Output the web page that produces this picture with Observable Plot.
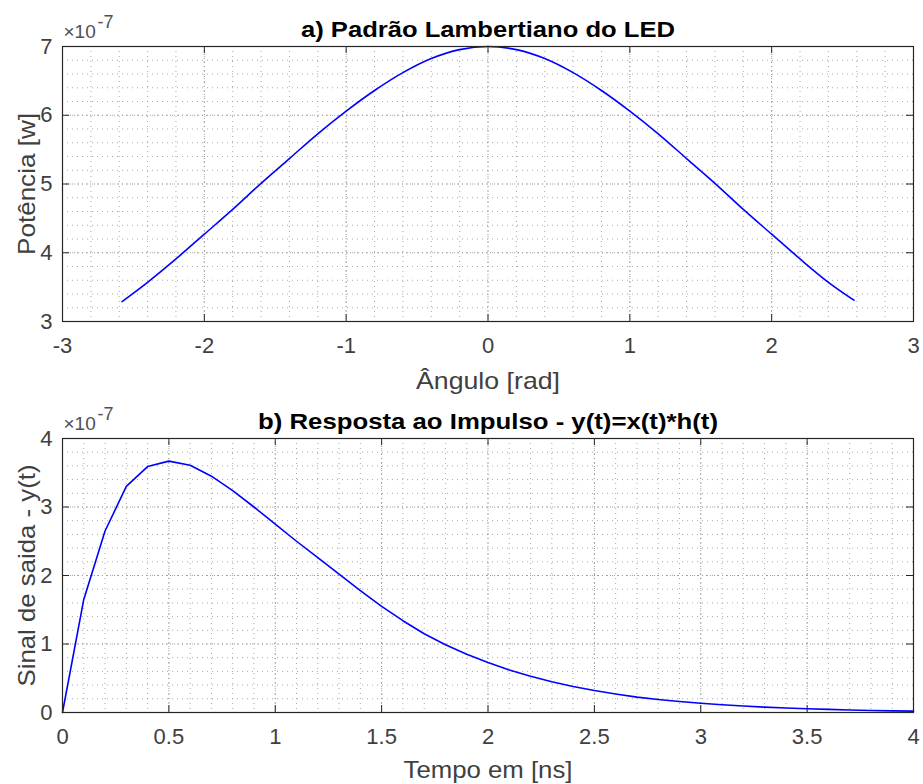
<!DOCTYPE html>
<html><head><meta charset="utf-8">
<script src="https://cdn.jsdelivr.net/npm/d3@7"></script>
<script src="https://cdn.jsdelivr.net/npm/@observablehq/plot@0.6"></script>
<style>
body{margin:0;background:#fff}
#c svg{display:block;overflow:visible}
</style>
</head><body><div id="c"></div>
<script>
// a) Lambertian pattern: angle [rad] vs power [x1e-7 W]
const angleRad = [-2.58,-2.4,-2.2,-2.0,-1.8,-1.6,-1.4,-1.2,-1.0,-0.8,-0.6,-0.4,-0.2,0,0.2,0.4,0.6,0.8,1.0,1.2,1.4,1.6,1.8,2.0,2.2,2.4,2.58];
const powerE7  = [3.29,3.57,3.91,4.27,4.63,5.01,5.37,5.73,6.06,6.36,6.62,6.825,6.955,7.0,6.955,6.825,6.62,6.36,6.06,5.73,5.37,5.01,4.63,4.27,3.91,3.57,3.31];
// b) impulse response: time [ns] vs output [x1e-7]
const timeNs = [0,0.1,0.2,0.3,0.4,0.5,0.6,0.7,0.8,0.9,1.0,1.1,1.2,1.3,1.4,1.5,1.6,1.7,1.8,1.9,2.0,2.1,2.2,2.3,2.4,2.5,2.6,2.7,2.8,2.9,3.0,3.1,3.2,3.3,3.4,3.5,3.6,3.7,3.8,3.9,4.0];
const outputE7 = [0,1.65,2.65,3.30,3.59,3.67,3.61,3.45,3.24,3.00,2.75,2.50,2.26,2.02,1.78,1.55,1.34,1.15,0.99,0.85,0.73,0.62,0.53,0.45,0.38,0.32,0.27,0.225,0.19,0.16,0.136,0.113,0.094,0.078,0.065,0.054,0.045,0.037,0.03,0.024,0.02];
// ticks
const xTicksA = [-3,-2,-1,0,1,2,3];
const yTicksA = [3,4,5,6,7];
const xTicksB = [0,0.5,1,1.5,2,2.5,3,3.5,4];
const yTicksB = [0,1,2,3,4];
const xMinorA = d3.range(-15,16).map(i => i/5);
const yMinorA = d3.range(15,36).map(i => i/5);
const xMinorB = d3.range(0,41).map(i => i/10);
const yMinorB = d3.range(0,21).map(i => i/5);

const W = 923, ML = 62, MR = 10, MT = 46;
const FONT = "'Liberation Sans', Arial, Helvetica, sans-serif";
const INK = "#262626";

function panel(o) {
  const H = 392;
  const ih = H - MT - o.mb, iw = W - ML - MR;
  const data = o.xs.map((x, i) => ({x, y: o.ys[i]}));
  const svg = Plot.plot({
    width: W, height: H,
    marginLeft: ML, marginRight: MR, marginTop: MT, marginBottom: o.mb,
    style: {fontFamily: FONT, fontSize: "22px", color: INK, overflow: "visible"},
    x: {domain: o.xDomain},
    y: {domain: o.yDomain},
    marks: [
      Plot.ruleX(o.xMinor, {stroke: "#a8a8a8", strokeWidth: 1, strokeDasharray: "1,4"}),
      Plot.ruleY(o.yMinor, {stroke: "#a8a8a8", strokeWidth: 1, strokeDasharray: "1,4"}),
      Plot.ruleX(o.xTicks, {stroke: "#999", strokeWidth: 1, strokeDasharray: "1,3"}),
      Plot.ruleY(o.yTicks, {stroke: "#999", strokeWidth: 1, strokeDasharray: "1,3"}),
      Plot.line(data, {x: "x", y: "y", stroke: "#0000ff", strokeWidth: 1.6, curve: o.curve}),
      Plot.ruleX(o.xTicks, {stroke: INK, insetBottom: ih - 7}),
      Plot.ruleX(o.xTicks, {stroke: INK, insetTop: ih - 7}),
      Plot.ruleY(o.yTicks, {stroke: INK, insetRight: iw - 7}),
      Plot.ruleY(o.yTicks, {stroke: INK, insetLeft: iw - 7}),
      Plot.frame({stroke: INK, strokeWidth: 1.2}),
      Plot.axisX({ticks: o.xTicks, tickSize: 0, tickPadding: 16, tickFormat: d => String(d), label: null, fill: "#404040"}),
      Plot.axisY({ticks: o.yTicks, tickSize: 0, tickPadding: 10, tickFormat: d => String(d), label: null, fill: "#404040"}),
      Plot.text([o.title], {frameAnchor: "top", dy: -10, lineAnchor: "bottom", fontWeight: "bold", fontSize: 22, fill: "#000", className: "ttl"}),
      Plot.text([o.xLabel], {frameAnchor: "bottom", dy: o.xlDy, lineAnchor: "bottom", fontSize: 24, fill: "#404040", className: "xlab"}),
      Plot.text([o.yLabel], {frameAnchor: "left", dx: -28, rotate: -90, textAnchor: "middle", lineAnchor: "bottom", fontSize: 24, fill: "#404040", className: "ylab"}),
      Plot.text(["×10"], {frameAnchor: "top-left", dx: 1, dy: -9, textAnchor: "start", lineAnchor: "bottom", fontSize: 19, fill: "#505050"}),
      Plot.text(["-7"], {frameAnchor: "top-left", dx: 35, dy: -19, textAnchor: "start", lineAnchor: "bottom", fontSize: 18, fill: "#505050"})
    ]
  });
  // stretch the wide MATLAB-style labels to the widths seen in the reference
  const fit = (cls, len) => d3.select(svg).selectAll("g." + cls + " text")
    .attr("textLength", len).attr("lengthAdjust", "spacingAndGlyphs");
  fit("ttl", o.titleLen); fit("xlab", o.xlLen); fit("ylab", o.ylLen);
  return svg;
}

const c = document.getElementById("c");
c.appendChild(panel({
  xs: angleRad, ys: powerE7, xDomain: [-3, 3], yDomain: [3, 7], curve: "catmull-rom",
  xTicks: xTicksA, yTicks: yTicksA, xMinor: xMinorA, yMinor: yMinorA, mb: 71,
  title: "a) Padrão Lambertiano do LED", xLabel: "Ângulo [rad]", yLabel: "Potência [w]", xlDy: 67,
  titleLen: 374, xlLen: 144, ylLen: 142
}));
c.appendChild(panel({
  xs: timeNs, ys: outputE7, xDomain: [0, 4], yDomain: [0, 4], curve: "linear",
  xTicks: xTicksB, yTicks: yTicksB, xMinor: xMinorB, yMinor: yMinorB, mb: 72,
  title: "b) Resposta ao Impulso - y(t)=x(t)*h(t)", xLabel: "Tempo em [ns]", yLabel: "Sinal de saida - y(t)", xlDy: 65,
  titleLen: 460, xlLen: 169, ylLen: 222
}));
</script>
</body></html>
